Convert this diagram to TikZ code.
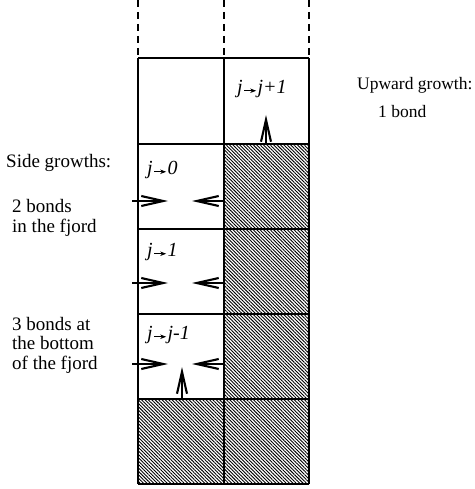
\documentclass[tikz,border=0pt]{standalone}
\usepackage{fontspec}
\setmainfont{Liberation Serif}
\usetikzlibrary{arrows.meta,patterns.meta}
\newcommand{\smallarr}{\kern1pt\tikz[baseline=-0.3ex]\draw[line width=0.8pt,-{Stealth[length=6pt,width=4.5pt]}] (0,0)--(12pt,0);\kern1pt}
\tikzset{
  grid/.style={line width=1.3pt},
  hatched/.style={pattern={Lines[angle=-45,distance=2.4pt,line width=0.9pt]},pattern color=black},
  growarrow/.style={line width=1.9pt,-{Straight Barb[length=22pt,width=10pt,line width=2.1pt]}},
  celltxt/.style={font=\fontsize{20pt}{22pt}\selectfont\itshape,inner sep=0pt,anchor=west},
  txt/.style={font=\fontsize{19pt}{19.5pt}\selectfont,inner sep=0pt,anchor=west,align=left},
  rtxt/.style={font=\fontsize{17.5pt}{17pt}\selectfont,inner sep=0pt,anchor=west}
}
\begin{document}
\begin{tikzpicture}[x=1pt,y=-1pt]
\useasboundingbox (0,0) rectangle (474,489);
% hatched cells
\fill[hatched] (224,144) rectangle (309,484);
\fill[hatched] (138,399) rectangle (224,484);
% dashed extensions
\foreach \x in {138,224,309} \draw[grid,dash pattern=on 7pt off 5pt] (\x,0) -- (\x,58);
% grid
\foreach \x in {138,224,309} \draw[grid] (\x,58) -- (\x,484);
\foreach \y in {58,144,229,314,399,484} \draw[grid] (138,\y) -- (309,\y);
% arrows
\coordinate (u1s) at (266,144); \coordinate (u1e) at (266,115);
\draw[growarrow] (u1s) -- (u1e);
\coordinate (a2l) at (132,201); \coordinate (a2lt) at (168,201);
\coordinate (a2r) at (224,201); \coordinate (a2rt) at (192,201);
\draw[growarrow] (a2l) -- (a2lt);
\draw[growarrow] (a2r) -- (a2rt);
\coordinate (a3l) at (132,283); \coordinate (a3lt) at (168,283);
\coordinate (a3r) at (224,283); \coordinate (a3rt) at (192,283);
\draw[growarrow] (a3l) -- (a3lt);
\draw[growarrow] (a3r) -- (a3rt);
\coordinate (a4l) at (132,364); \coordinate (a4lt) at (168,364);
\coordinate (a4r) at (224,364); \coordinate (a4rt) at (192,364);
\draw[growarrow] (a4l) -- (a4lt);
\draw[growarrow] (a4r) -- (a4rt);
\coordinate (u4s) at (182,399); \coordinate (u4e) at (182,367);
\draw[growarrow] (u4s) -- (u4e);
% cell labels
\node[celltxt] (l1) at (237,89) {j\smallarr j+1};
\node[celltxt] (l2) at (147,170) {j\smallarr 0};
\node[celltxt] (l3) at (147,252) {j\smallarr 1};
\node[celltxt] (l4) at (147,335) {j\smallarr j-1};
% side texts
\node[txt] (side) at (6,163) {Side growths:};
\node[txt] (two) at (12,218) {2 bonds\\in the fjord};
\node[txt] (three) at (12,345) {3 bonds at\\the bottom\\of the fjord};
\node[rtxt] (up) at (357,85) {Upward growth:};
\node[rtxt] (one) at (378,112) {1 bond};
\end{tikzpicture}
\end{document}
